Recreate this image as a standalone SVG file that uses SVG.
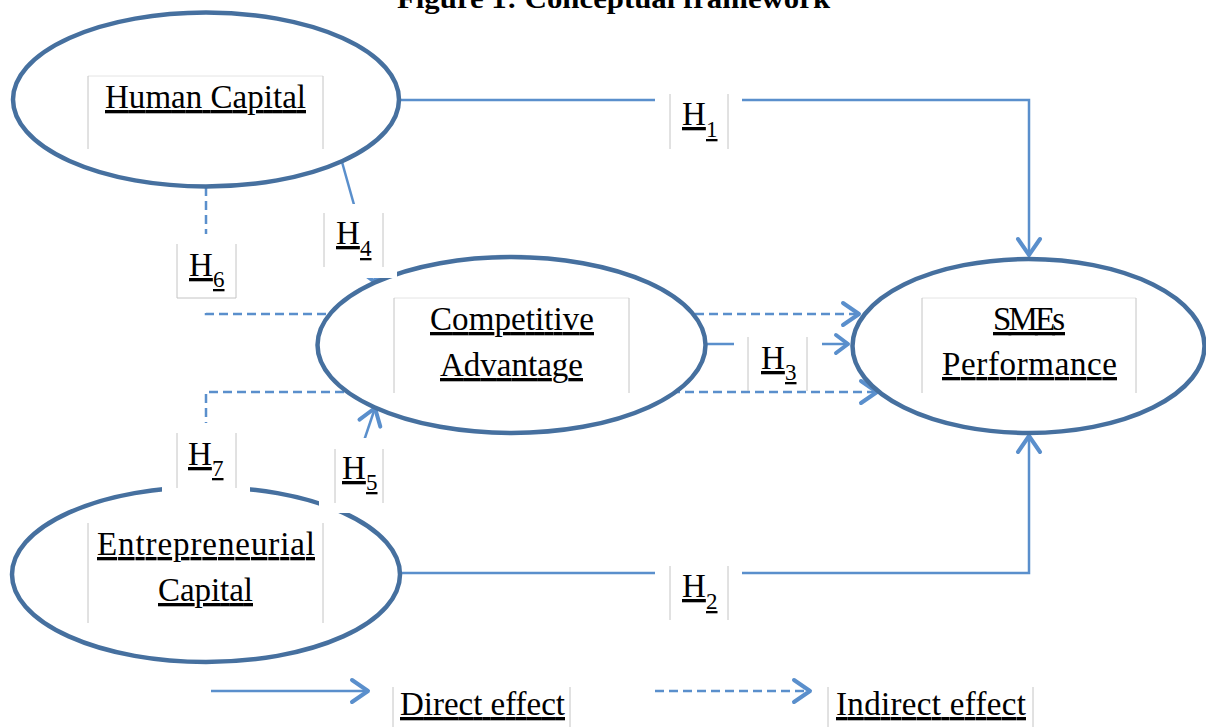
<svg xmlns="http://www.w3.org/2000/svg" width="1206" height="727" viewBox="0 0 1206 727">
<style>
.ell{fill:#fff;stroke:#46709F;stroke-width:4.5}
.con{fill:none;stroke:#5A8FCC;stroke-width:2.5}
.dash{stroke-dasharray:9 5}
.box{stroke:#c4c4c4;stroke-width:1}
.boxt{stroke:#e4e4e4;stroke-width:1}
.wh{fill:#fff}
.lbl{font-family:"Liberation Serif","Times New Roman",serif;font-size:33px;text-decoration:underline;fill:#000}
.sub{font-size:23px}
.ttl{font-family:"Liberation Serif","Times New Roman",serif;font-size:27px;font-weight:bold;fill:#000}
</style>
<defs>
<marker id="arr" viewBox="-3 -14 22 28" refX="16" refY="0" markerWidth="22" markerHeight="28" markerUnits="userSpaceOnUse" orient="auto">
<path d="M0,-11 L16,0 L0,11" fill="none" stroke="#5A8FCC" stroke-width="4" stroke-linecap="round" stroke-linejoin="round"/>
</marker>
<marker id="arrS" viewBox="-3 -12 18 24" refX="12" refY="0" markerWidth="18" markerHeight="24" markerUnits="userSpaceOnUse" orient="auto">
<path d="M0,-9 L12,0 L0,9" fill="none" stroke="#5A8FCC" stroke-width="4" stroke-linecap="round" stroke-linejoin="round"/>
</marker>
</defs>
<rect width="1206" height="727" fill="#fff"/>
<text class="ttl" x="397" y="8" textLength="433" lengthAdjust="spacingAndGlyphs">Figure 1: Conceptual framework</text>

<g id="connectors">
<path class="con" d="M399,100 H1029 V255" marker-end="url(#arr)"/>
<path class="con" d="M399,573 H1029 V436" marker-end="url(#arr)"/>
<path class="con" d="M706,344 H848" marker-end="url(#arrS)"/>
<path class="con" d="M342,162 L376,283" marker-end="url(#arrS)"/>
<path class="con" d="M340,512 L375,408" marker-end="url(#arr)"/>
<path class="con dash" d="M206,187 V314 H859" marker-end="url(#arr)"/>
<path class="con dash" d="M206,487 V392 H877" marker-end="url(#arr)"/>
<path class="con" d="M211,691 H368" marker-end="url(#arr)"/>
<path class="con dash" d="M655,691 H810" marker-end="url(#arr)"/>
</g>

<g id="human-capital">
<ellipse class="ell" cx="206" cy="99.5" rx="193" ry="87"/>
<line class="boxt" x1="88" y1="76" x2="323" y2="76"/>
<line class="box" x1="88" y1="76" x2="88" y2="149"/>
<line class="box" x1="323" y1="76" x2="323" y2="149"/>
<text class="lbl" x="205.5" y="108" text-anchor="middle" textLength="201">Human Capital</text>
</g>

<g id="competitive-advantage">
<ellipse class="ell" cx="511.5" cy="345" rx="194" ry="88"/>
<line class="boxt" x1="394" y1="298" x2="629" y2="298"/>
<line class="box" x1="394" y1="298" x2="394" y2="393"/>
<line class="box" x1="629" y1="298" x2="629" y2="393"/>
<text class="lbl" x="512" y="330" text-anchor="middle" textLength="164">Competitive</text>
<text class="lbl" x="511.5" y="376" text-anchor="middle" textLength="143">Advantage</text>
</g>

<g id="smes-performance">
<ellipse class="ell" cx="1028.5" cy="346" rx="176" ry="87"/>
<line class="boxt" x1="922" y1="298" x2="1136" y2="298"/>
<line class="box" x1="922" y1="298" x2="922" y2="393"/>
<line class="box" x1="1136" y1="298" x2="1136" y2="393"/>
<text class="lbl" x="1029" y="330" text-anchor="middle" textLength="72">SMEs</text>
<text class="lbl" x="1029.5" y="375" text-anchor="middle" textLength="175">Performance</text>
</g>

<g id="entrepreneurial-capital">
<ellipse class="ell" cx="206" cy="574.5" rx="194" ry="87.5"/>
<line class="box" x1="88" y1="523" x2="88" y2="623"/>
<line class="box" x1="323" y1="523" x2="323" y2="623"/>
<text class="lbl" x="206" y="555" text-anchor="middle" textLength="218">Entrepreneurial</text>
<text class="lbl" x="205.5" y="601" text-anchor="middle" textLength="95">Capital</text>
</g>

<g id="label-h1">
<rect class="wh" x="655" y="90" width="87" height="60"/>
<line class="box" x1="670" y1="94" x2="670" y2="149"/>
<line class="box" x1="728" y1="94" x2="728" y2="149"/>
<text class="lbl" x="682" y="125">H</text><text class="lbl sub" x="706" y="137">1</text>
</g>
<g id="label-h2">
<rect class="wh" x="655" y="562" width="87" height="60"/>
<line class="box" x1="670" y1="566" x2="670" y2="620"/>
<line class="box" x1="728" y1="566" x2="728" y2="620"/>
<text class="lbl" x="682" y="597">H</text><text class="lbl sub" x="706" y="609">2</text>
</g>
<g id="label-h3">
<rect class="wh" x="734" y="334" width="88" height="56"/>
<line class="box" x1="748" y1="337" x2="748" y2="391"/>
<line class="box" x1="807" y1="337" x2="807" y2="391"/>
<text class="lbl" x="761" y="369">H</text><text class="lbl sub" x="785" y="380">3</text>
</g>
<g id="label-h4">
<rect class="wh" x="318" y="204" width="79" height="74"/>
<line class="box" x1="324" y1="213" x2="324" y2="267"/>
<line class="box" x1="383" y1="213" x2="383" y2="267"/>
<text class="lbl" x="336" y="244">H</text><text class="lbl sub" x="360" y="256">4</text>
</g>
<g id="label-h5">
<rect class="wh" x="319" y="438" width="71" height="75"/>
<line class="box" x1="335" y1="449" x2="335" y2="503"/>
<line class="box" x1="383" y1="449" x2="383" y2="503"/>
<text class="lbl" x="342" y="479">H</text><text class="lbl sub" x="366" y="490">5</text>
</g>
<g id="label-h6">
<rect class="wh" x="162" y="234" width="88" height="77"/>
<line class="box" x1="177" y1="244" x2="177" y2="298"/>
<line class="box" x1="236" y1="244" x2="236" y2="298"/>
<line class="box" x1="177" y1="298" x2="236" y2="298"/>
<text class="lbl" x="189" y="276">H</text><text class="lbl sub" x="213" y="287">6</text>
</g>
<g id="label-h7">
<rect class="wh" x="162" y="423" width="88" height="70"/>
<line class="box" x1="177" y1="433" x2="177" y2="488"/>
<line class="box" x1="236" y1="433" x2="236" y2="488"/>
<text class="lbl" x="188" y="465">H</text><text class="lbl sub" x="212" y="476">7</text>
</g>

<g id="legend">
<line class="box" x1="393" y1="687" x2="393" y2="727"/>
<line class="box" x1="570" y1="687" x2="570" y2="727"/>
<text class="lbl" x="400" y="715" textLength="165">Direct effect</text>
<line class="box" x1="828" y1="687" x2="828" y2="727"/>
<line class="box" x1="1033" y1="687" x2="1033" y2="727"/>
<text class="lbl" x="836" y="715" textLength="190">Indirect effect</text>
</g>
</svg>
